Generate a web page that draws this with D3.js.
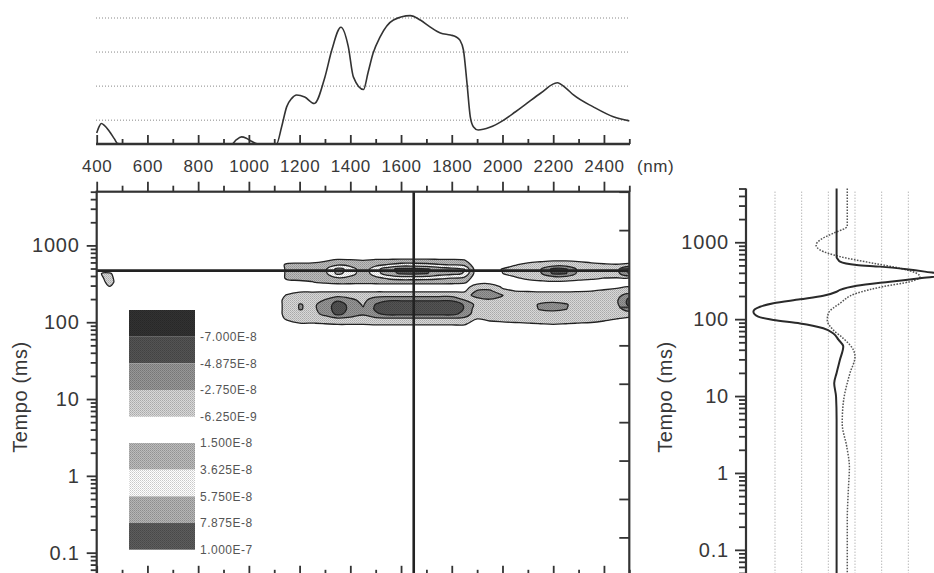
<!DOCTYPE html>
<html>
<head>
<meta charset="utf-8">
<script src="https://cdn.jsdelivr.net/npm/d3@7"></script>
<style>
    body { margin: 0; background: #fff; }
    svg text { font-family: "Liberation Sans", Arial, sans-serif; fill: #383838; }
</style>
</head>
<body>
<svg id="chart" width="934" height="573"></svg>
<script>
// ---- data ----

// top panel: absorption spectrum (nm, arbitrary units)
const spectrumNm = [400, 410, 418, 430, 451, 470, 483, 500, 933, 950, 971, 990, 1010, 1036, 1109, 1129, 1149, 1169, 1188, 1220, 1258, 1300, 1327, 1363, 1392, 1412, 1452, 1470, 1490, 1517, 1570, 1636, 1676, 1714, 1755, 1795, 1816, 1832, 1846, 1860, 1873, 1886, 1904, 1950, 2000, 2050, 2097, 2150, 2216, 2250, 2280, 2358, 2437, 2500];
const spectrumVal = [0.62, 0.82, 0.9, 0.85, 0.66, 0.45, 0.31, 0.3, 0.3, 0.42, 0.51, 0.47, 0.38, 0.3, 0.3, 0.8, 1.39, 1.64, 1.74, 1.68, 1.49, 2.27, 3.06, 3.73, 3.16, 2.27, 1.9, 2.4, 2.97, 3.44, 3.94, 4.07, 3.94, 3.74, 3.56, 3.5, 3.45, 3.35, 3.06, 2.09, 1.1, 0.8, 0.71, 0.79, 0.98, 1.24, 1.5, 1.79, 2.1, 1.94, 1.74, 1.39, 1.1, 0.98];
const spectrumGrid = [1, 2, 3, 4];

const nmMajor = [400, 600, 800, 1000, 1200, 1400, 1600, 1800, 2000, 2200, 2400];
const nmMinor = [500, 700, 900, 1100, 1300, 1500, 1700, 1900, 2100, 2300, 2500];
const msLabels = [0.1, 1, 10, 100, 1000];

// contour map: columns every 50 nm from 400 to 2500, rows at these times (ms)
const gridNm = [400, 450, 500, 550, 600, 650, 700, 750, 800, 850, 900, 950, 1000, 1050, 1100,
                1150, 1200, 1250, 1300, 1350, 1400, 1450, 1500, 1550, 1600, 1650, 1700, 1750, 1800, 1850,
                1900, 1950, 2000, 2050, 2100, 2150, 2200, 2250, 2300, 2350, 2400, 2450, 2500];
const gridMs = [900, 750, 640, 560, 490, 430, 375, 330, 290, 255, 225, 195, 170, 148, 128, 112, 97, 84, 70];
// values in units of 1E-8
const gridValues = [
    [0,0,0,0,0, 0,0,0,0,0, 0,0,0,0,0,  0,0,0,0,0, 0,0,0,0,0, 0,0,0,0,0,  0,0,0,0,0, 0,0,0,0,0, 0,0,0],
    [0,0,0,0,0, 0,0,0,0,0, 0,0,0,0,0,  0,0,0,0,0, 0,0,0,0,0, 0,0,0,0,0,  0,0,0,0,0, 0,0,0,0,0, 0,0,0],
    [0,0,0,0,0, 0,0,0,0,0, 0,0,0,0,0,  0.4,0.6,0.8,1.3,1.8, 1.7,1.5,1.8,1.85,1.9, 1.9,1.9,1.85,1.8,1.6,  0,0,0,0,0, -0.2,-0.45,-0.45,-0.3,0, 0,0,0],
    [0,0,0,0,0, 0,0,0,0,0, 0,0,0,0,0,  1.9,2.0,2.0,2.1,3.3, 2.8,2.0,3.0,3.8,4.5, 4.5,4.3,3.8,3.5,3.0,  0,0,0,-0.5,-1.1, -1.5,-1.6,-1.6,-1.4,-1.1, -0.8,-0.7,-0.9],
    [0,0,0,0,0, 0,0,0,0,0, 0,0,0,0,0,  1.8,2.2,2.4,3.2,6.5, 5.0,2.2,5.0,7.2,8.6, 8.6,8.2,7.0,6.5,5.8,  0,0,-0.7,-1.3,-1.8, -2.6,-5.5,-5.2,-2.2,-1.8, -1.6,-2.0,-5.5],
    [-0.55,-0.75,0,0,0, 0,0,0,0,0, 0,0,0,0,0,  1.8,2.2,2.4,3.0,6.3, 4.8,2.2,4.8,7.0,8.2, 8.3,8.0,6.8,6.3,5.6,  0,0,-0.6,-1.2,-1.7, -2.5,-5.2,-5.0,-2.1,-1.7, -1.5,-2.0,-5.0],
    [-0.3,-0.9,0,0,0, 0,0,0,0,0, 0,0,0,0,0,  1.8,2.0,2.0,2.2,3.3, 2.8,2.0,3.0,4.0,4.5, 4.5,4.4,4.0,3.6,3.0,  0,0,0,-0.4,-1.0, -1.3,-1.4,-1.4,-1.2,-0.9, -0.6,-0.5,-0.5],
    [0,-0.9,-0.1,0,0, 0,0,0,0,0, 0,0,0,0,0,  0.9,1.1,1.4,1.8,2.1, 2.1,2.0,2.1,2.2,2.2, 2.2,2.2,2.2,2.1,1.8,  0,-0.2,0,0,0, -0.2,-0.4,-0.3,0,0, 0,0,0],
    [0,-0.6,0,0,0, 0,0,0,0,0, 0,0,0,0,0,  0,0,0,0.1,0.2, 0.2,0.2,0.2,0.2,0.2, 0.2,0.2,0.2,0.2,0.1,  -1.5,-1.5,-0.4,0,0, 0,0,0,0,0, -0.2,-0.4,-0.6],
    [0,0,0,0,0, 0,0,0,0,0, 0,0,0,0,0,  -0.2,-0.3,-0.3,-0.3,-0.3, -0.3,-0.3,-0.3,-0.3,-0.3, -0.3,-0.3,-0.3,-0.3,-0.3,  -3.0,-3.2,-1.0,-0.6,-0.5, -0.4,-0.4,-0.4,-0.5,-0.6, -0.8,-1.0,-1.2],
    [0,0,0,0,0, 0,0,0,0,0, 0,0,0,0,0,  -0.7,-1.6,-1.6,-1.8,-2.0, -1.9,-1.7,-2.0,-2.0,-2.0, -2.0,-2.0,-2.0,-2.0,-1.9,  -3.5,-3.6,-2.8,-1.6,-1.5, -1.4,-1.4,-1.4,-1.4,-1.5, -1.6,-1.8,-4.0],
    [0,0,0,0,0, 0,0,0,0,0, 0,0,0,0,0,  -1.0,-2.0,-2.0,-2.8,-4.5, -3.2,-2.2,-3.8,-4.5,-4.5, -4.5,-4.5,-4.5,-4.5,-2.7,  -2.0,-2.6,-2.5,-1.8,-1.9, -2.0,-2.1,-2.0,-1.8,-1.9, -2.0,-2.4,-5.5],
    [0,0,0,0,0, 0,0,0,0,0, 0,0,0,0,0,  -1.0,-2.85,-2.4,-3.4,-6.0, -4.2,-2.5,-5.0,-6.5,-6.5, -6.5,-6.5,-6.5,-6.5,-4.6,  -2.0,-2.0,-1.8,-1.8,-2.0, -3.0,-3.3,-2.9,-2.0,-2.0, -2.0,-2.3,-5.5],
    [0,0,0,0,0, 0,0,0,0,0, 0,0,0,0,0,  -1.0,-2.85,-2.4,-3.4,-6.2, -4.3,-3.0,-5.2,-6.8,-6.8, -6.8,-6.8,-6.8,-6.6,-4.7,  -1.5,-1.6,-1.6,-1.7,-2.0, -2.9,-3.1,-2.8,-2.0,-1.9, -1.8,-1.8,-4.0],
    [0,0,0,0,0, 0,0,0,0,0, 0,0,0,0,0,  -1.0,-2.0,-2.1,-3.2,-5.5, -4.0,-3.0,-4.5,-5.5,-5.5, -5.5,-5.5,-5.5,-5.5,-4.2,  -1.3,-1.4,-1.5,-1.6,-1.8, -2.0,-2.1,-2.0,-1.8,-1.7, -1.6,-1.4,-1.2],
    [0,0,0,0,0, 0,0,0,0,0, 0,0,0,0,0,  -0.8,-1.5,-1.6,-2.0,-2.5, -2.2,-1.9,-2.4,-2.5,-2.5, -2.5,-2.5,-2.5,-2.5,-2.3,  -0.7,-1.0,-1.2,-1.3,-1.4, -1.5,-1.6,-1.5,-1.4,-1.3, -1.0,-0.7,-0.4],
    [0,0,0,0,0, 0,0,0,0,0, 0,0,0,0,0,  -0.3,-0.6,-0.6,-0.7,-0.8, -0.8,-0.8,-0.9,-0.9,-0.9, -0.9,-0.9,-0.9,-0.9,-0.9,  0,-0.3,-0.4,-0.5,-0.6, -0.7,-0.8,-0.7,-0.6,-0.5, -0.3,0,0],
    [0,0,0,0,0, 0,0,0,0,0, 0,0,0,0,0,  0,0,0,0,-0.1, -0.1,-0.1,-0.1,-0.1,-0.1, -0.1,-0.1,-0.1,-0.1,-0.1,  0,0,0,0,0, 0,0,0,0,0, 0,0,0],
    [0,0,0,0,0, 0,0,0,0,0, 0,0,0,0,0,  0,0,0,0,0, 0,0,0,0,0, 0,0,0,0,0,  0,0,0,0,0, 0,0,0,0,0, 0,0,0]
];

// contour levels (1E-8) and legend
const negLevels = [-9.125, -7, -4.875, -2.75, -0.625];
const posLevels = [1.5, 3.625, 5.75, 7.875, 10];
const negColors = ['#2e2e2e', '#4d4d4d', '#8a8a8a', '#c6c6c6'];
const posColors = ['#acacac', '#ececec', '#a6a6a6', '#555555'];
const negLabels = ['-7.000E-8', '-4.875E-8', '-2.750E-8', '-6.250E-9'];
const posLabels = ['1.500E-8', '3.625E-8', '5.750E-8', '7.875E-8', '1.000E-7'];

// cross-hair cut of the map
const cutNm = 1650;
const cutMs = 470;

// right panel: kinetic traces (time in ms, signal in grid units)
const solidMs = [5000, 700, 638, 600, 560, 507, 482, 445, 415, 375, 340, 307, 272, 240, 227, 201, 181, 161, 145, 125, 108, 97.6, 88, 76, 65, 54, 44, 30, 20, 14.7, 9.8, 5, 0.05];
const solidVal = [-0.69, -0.69, -0.69, -0.64, -0.56, 0.06, 0.94, 1.94, 2.62, 3.4, 2.44, 1.31, 0.06, -0.56, -0.69, -1.19, -2.06, -3.06, -3.56, -3.81, -3.63, -3.06, -2.06, -1.19, -0.81, -0.62, -0.44, -0.56, -0.69, -0.78, -0.71, -0.69, -0.69];
const dottedMs = [5000, 1600, 1520, 1310, 1070, 923, 794, 650, 533, 459, 395, 357, 307, 265, 217, 161, 119, 97.6, 72, 56.3, 39.8, 32.5, 19.8, 8.1, 4.4, 2.2, 1.2, 0.6, 0.25, 0.05];
const dottedVal = [-0.29, -0.29, -0.37, -0.81, -1.31, -1.46, -1.31, -0.56, 0.69, 1.69, 2.31, 2.44, 2.06, 1.06, 0.06, -0.56, -1.0, -1.04, -0.81, -0.44, -0.06, 0, -0.19, -0.44, -0.48, -0.31, -0.21, -0.25, -0.29, -0.29];
const rightGrid = [-3, -2, -1, 0, 1, 2, 3];

// ---- scales ----
const svg = d3.select('#chart');
const x = d3.scaleLinear().domain([400, 2500]).range([96.7, 629.3]);
const topY = d3.scaleLinear().domain([0.3, 4.1]).range([144, 14.6]);
const y = d3.scaleLog().domain([0.05, 5000]).range([575.8, 191.7]);
const yRightFrame = d3.scaleLinear().domain([0, 10]).range([575.8, 191.7]);
const yR = d3.scaleLog().domain([0.05, 5000]).range([573, 188.5]);
const xR = d3.scaleLinear().domain([-3, 3]).range([775, 935]);

const minorMs = [0.05, 0.06, 0.07, 0.08, 0.09].concat(
    [0.1, 1, 10, 100].flatMap(function (d) { return [2, 3, 4, 5, 6, 7, 8, 9].map(function (m) { return +(d * m).toPrecision(3); }); }),
    [2000, 3000, 4000, 5000]);

const styleAxis = function (g, size, spacing) {
    g.attr('font-size', null).attr('font-family', null).attr('color', '#333');
    g.selectAll('.tick line').attr('stroke-width', 1.8);
    g.selectAll('text').style('font-size', size + 'px').style('letter-spacing', spacing + 'px');
};

// halftone-like fills, as in the printed figure
const defs = svg.append('defs');
const screenFill = function (color, id) {
    const c = d3.color(color);
    const p = defs.append('pattern').attr('id', id)
        .attr('patternUnits', 'userSpaceOnUse').attr('width', 2).attr('height', 2);
    p.append('rect').attr('width', 2).attr('height', 2).attr('fill', c.brighter(0.25).formatHex());
    p.append('rect').attr('width', 1).attr('height', 1).attr('fill', c.darker(0.45).formatHex());
    p.append('rect').attr('x', 1).attr('y', 1).attr('width', 1).attr('height', 1).attr('fill', c.darker(0.2).formatHex());
    return 'url(#' + id + ')';
};
const negFills = negColors.map(function (c, i) { return screenFill(c, 'neg' + i); });
const posFills = posColors.map(function (c, i) { return screenFill(c, 'pos' + i); });

// ---- top panel ----
const topPanel = svg.append('g');
topPanel.selectAll('.grid').data(spectrumGrid).enter().append('line')
    .attr('class', 'grid')
    .attr('x1', 96).attr('x2', 630)
    .attr('y1', function (d) { return topY(d); }).attr('y2', function (d) { return topY(d); })
    .attr('stroke', '#888').attr('stroke-width', 1).attr('stroke-dasharray', '1,2');

topPanel.append('g').attr('transform', 'translate(0,144)')
    .call(d3.axisTop(x).tickValues(nmMajor).tickSize(9).tickFormat(''))
    .call(function (g) { g.select('.domain').remove(); styleAxis(g, 17, 0); });
topPanel.append('g').attr('transform', 'translate(0,144)')
    .call(d3.axisTop(x).tickValues(nmMinor).tickSize(5).tickFormat(''))
    .call(function (g) { g.select('.domain').remove(); styleAxis(g, 17, 0); });
topPanel.append('g').attr('transform', 'translate(0,144)')
    .call(d3.axisBottom(x).tickValues(nmMajor).tickSize(0).tickFormat(function (d) { return String(d); }))
    .call(function (g) {
        g.select('.domain').remove();
        styleAxis(g, 17, 0.6);
        g.selectAll('text').attr('y', 27.7).attr('dy', 0);
    });
topPanel.append('line').attr('x1', 96).attr('x2', 630).attr('y1', 144).attr('y2', 144)
    .attr('stroke', '#333').attr('stroke-width', 2.4);
topPanel.append('text').text('(nm)').attr('x', 637).attr('y', 171.7)
    .style('font-size', '17px').style('letter-spacing', '0.6px');

topPanel.append('path')
    .datum(spectrumNm.map(function (n, i) { return [n, spectrumVal[i]]; }))
    .attr('fill', 'none').attr('stroke', '#333').attr('stroke-width', 1.6)
    .attr('d', d3.line().x(function (d) { return x(d[0]); }).y(function (d) { return topY(d[1]); }).curve(d3.curveMonotoneX));

// ---- contour map ----
svg.append('clipPath').attr('id', 'mapClip').append('rect')
    .attr('x', x(400)).attr('y', y(5000))
    .attr('width', x(2500) - x(400)).attr('height', y(0.05) - y(5000));

const nCols = gridNm.length;
const nRows = gridMs.length;
gridValues.forEach(function (row, i) {
    if (row.length !== nCols) { console.error('row ' + i + ' has ' + row.length + ' values'); }
});
const flat = gridValues.flat();
const colToNm = d3.scaleLinear().domain(d3.range(nCols)).range(gridNm);
const rowToLogMs = d3.scaleLinear().domain(d3.range(nRows)).range(gridMs.map(Math.log10));
const project = function (p) {
    return [x(colToNm(p[0] - 0.5)), y(Math.pow(10, rowToLogMs(p[1] - 0.5)))];
};
const ringLine = d3.line().curve(d3.curveCatmullRomClosed.alpha(0.5));
const multiPath = function (mp) {
    return mp.coordinates.map(function (poly) {
        return poly.map(function (ring) { return ringLine(ring.slice(0, -1).map(project)); }).join('');
    }).join('');
};

const mapGroup = svg.append('g').attr('clip-path', 'url(#mapClip)');
const contourGen = d3.contours().size([nCols, nRows]);

// negative values: regions below each level, outermost first
const negThresholds = negLevels.slice(1).reverse().map(function (v) { return -v; });
const negFillOrder = negFills.slice().reverse();
contourGen.thresholds(negThresholds)(flat.map(function (v) { return -v; })).forEach(function (mp, i) {
    mapGroup.append('path').attr('d', multiPath(mp))
        .attr('fill', negFillOrder[i]).attr('fill-rule', 'evenodd')
        .attr('stroke', '#222').attr('stroke-width', 1.3);
});
// positive values: regions above each level
contourGen.thresholds(posLevels.slice(0, 4))(flat).forEach(function (mp, i) {
    mapGroup.append('path').attr('d', multiPath(mp))
        .attr('fill', posFills[i]).attr('fill-rule', 'evenodd')
        .attr('stroke', '#222').attr('stroke-width', 1.3);
});

// cross-hair
mapGroup.append('line').attr('x1', x(400)).attr('x2', x(2500)).attr('y1', y(cutMs)).attr('y2', y(cutMs))
    .attr('stroke', '#222').attr('stroke-width', 2.6);
mapGroup.append('line').attr('x1', x(cutNm)).attr('x2', x(cutNm)).attr('y1', y(5000)).attr('y2', y(0.05))
    .attr('stroke', '#222').attr('stroke-width', 2.6);

// legend
const legNegY = d3.scaleLinear().domain([negLevels[0], negLevels[4]]).range([310, 416.7]);
const legPosY = d3.scaleLinear().domain([posLevels[0], posLevels[4]]).range([443, 549.7]);
const legend = svg.append('g');
legend.selectAll('.neg').data(d3.range(4)).enter().append('rect')
    .attr('x', 129).attr('width', 66)
    .attr('y', function (i) { return legNegY(negLevels[i]); })
    .attr('height', function (i) { return legNegY(negLevels[i + 1]) - legNegY(negLevels[i]); })
    .attr('fill', function (i) { return negFills[i]; });
legend.selectAll('.pos').data(d3.range(4)).enter().append('rect')
    .attr('x', 129).attr('width', 66)
    .attr('y', function (i) { return legPosY(posLevels[i]); })
    .attr('height', function (i) { return legPosY(posLevels[i + 1]) - legPosY(posLevels[i]); })
    .attr('fill', function (i) { return posFills[i]; });
legend.selectAll('.nl').data(negLabels).enter().append('text')
    .text(function (d) { return d; })
    .attr('x', 200).attr('y', function (d, i) { return legNegY(negLevels[i + 1]); })
    .attr('dy', '0.35em').style('font-size', '12px').style('letter-spacing', '0.5px').style('fill', '#555');
legend.selectAll('.pl').data(posLabels).enter().append('text')
    .text(function (d) { return d; })
    .attr('x', 200).attr('y', function (d, i) { return legPosY(posLevels[i]); })
    .attr('dy', '0.35em').style('font-size', '12px').style('letter-spacing', '0.5px').style('fill', '#555');

// frame and axes of the map
svg.append('rect').attr('x', x(400)).attr('y', y(5000))
    .attr('width', x(2500) - x(400)).attr('height', y(0.05) - y(5000))
    .attr('fill', 'none').attr('stroke', '#333').attr('stroke-width', 2.2);

[[nmMajor, 10], [nmMinor, 6]].forEach(function (t) {
    svg.append('g').attr('transform', 'translate(0,' + y(5000) + ')')
        .call(d3.axisTop(x).tickValues(t[0]).tickSize(t[1]).tickFormat(''))
        .call(function (g) { g.select('.domain').remove(); styleAxis(g, 17, 0); });
    svg.append('g').attr('transform', 'translate(0,' + y(0.05) + ')')
        .call(d3.axisTop(x).tickValues(t[0]).tickSize(t[1]).tickFormat(''))
        .call(function (g) { g.select('.domain').remove(); styleAxis(g, 17, 0); });
});
svg.append('g').attr('transform', 'translate(' + x(2500) + ',0)')
    .call(d3.axisLeft(yRightFrame).ticks(10).tickSize(10).tickFormat(''))
    .call(function (g) { g.select('.domain').remove(); styleAxis(g, 17, 0); });

svg.append('g').attr('transform', 'translate(' + x(400) + ',0)')
    .call(d3.axisLeft(y).tickValues(msLabels).tickSize(10).tickPadding(7).tickFormat(function (d) { return String(d); }))
    .call(function (g) { g.select('.domain').remove(); styleAxis(g, 20, 0.8); });
svg.append('g').attr('transform', 'translate(' + x(400) + ',0)')
    .call(d3.axisLeft(y).tickValues(minorMs).tickSize(6).tickFormat(''))
    .call(function (g) { g.select('.domain').remove(); styleAxis(g, 20, 0); });
svg.append('text').text('Tempo (ms)')
    .attr('transform', 'translate(19.5,397) rotate(-90)')
    .attr('text-anchor', 'middle').attr('dy', '0.35em')
    .style('font-size', '20px').style('letter-spacing', '0.6px');

// ---- right panel ----
const right = svg.append('g');
right.selectAll('.vgrid').data(rightGrid).enter().append('line')
    .attr('x1', function (d) { return xR(d); }).attr('x2', function (d) { return xR(d); })
    .attr('y1', 191.7).attr('y2', 573)
    .attr('stroke', '#999').attr('stroke-width', 1).attr('stroke-dasharray', '1,2');

right.append('path')
    .datum(dottedMs.map(function (t, i) { return [t, dottedVal[i]]; }))
    .attr('fill', 'none').attr('stroke', '#555').attr('stroke-width', 1.5).attr('stroke-dasharray', '1.6,1.4')
    .attr('d', d3.line().x(function (d) { return xR(d[1]); }).y(function (d) { return yR(d[0]); }).curve(d3.curveMonotoneY));
right.append('path')
    .datum(solidMs.map(function (t, i) { return [t, solidVal[i]]; }))
    .attr('fill', 'none').attr('stroke', '#2a2a2a').attr('stroke-width', 2)
    .attr('d', d3.line().x(function (d) { return xR(d[1]); }).y(function (d) { return yR(d[0]); }).curve(d3.curveMonotoneY));

right.append('g').attr('transform', 'translate(746,0)')
    .call(d3.axisLeft(yR).tickValues(msLabels).tickSize(11).tickPadding(6).tickFormat(function (d) { return String(d); }))
    .call(function (g) { g.select('.domain').remove(); styleAxis(g, 20, 0.8); });
right.append('g').attr('transform', 'translate(746,0)')
    .call(d3.axisLeft(yR).tickValues(minorMs).tickSize(7).tickFormat(''))
    .call(function (g) { g.select('.domain').remove(); styleAxis(g, 20, 0); });
right.append('line').attr('x1', 746).attr('x2', 746).attr('y1', yR(5000)).attr('y2', 573)
    .attr('stroke', '#333').attr('stroke-width', 2.2);
right.append('text').text('Tempo (ms)')
    .attr('transform', 'translate(665,397) rotate(-90)')
    .attr('text-anchor', 'middle').attr('dy', '0.35em')
    .style('font-size', '20px').style('letter-spacing', '0.6px');
</script>
</body>
</html>
